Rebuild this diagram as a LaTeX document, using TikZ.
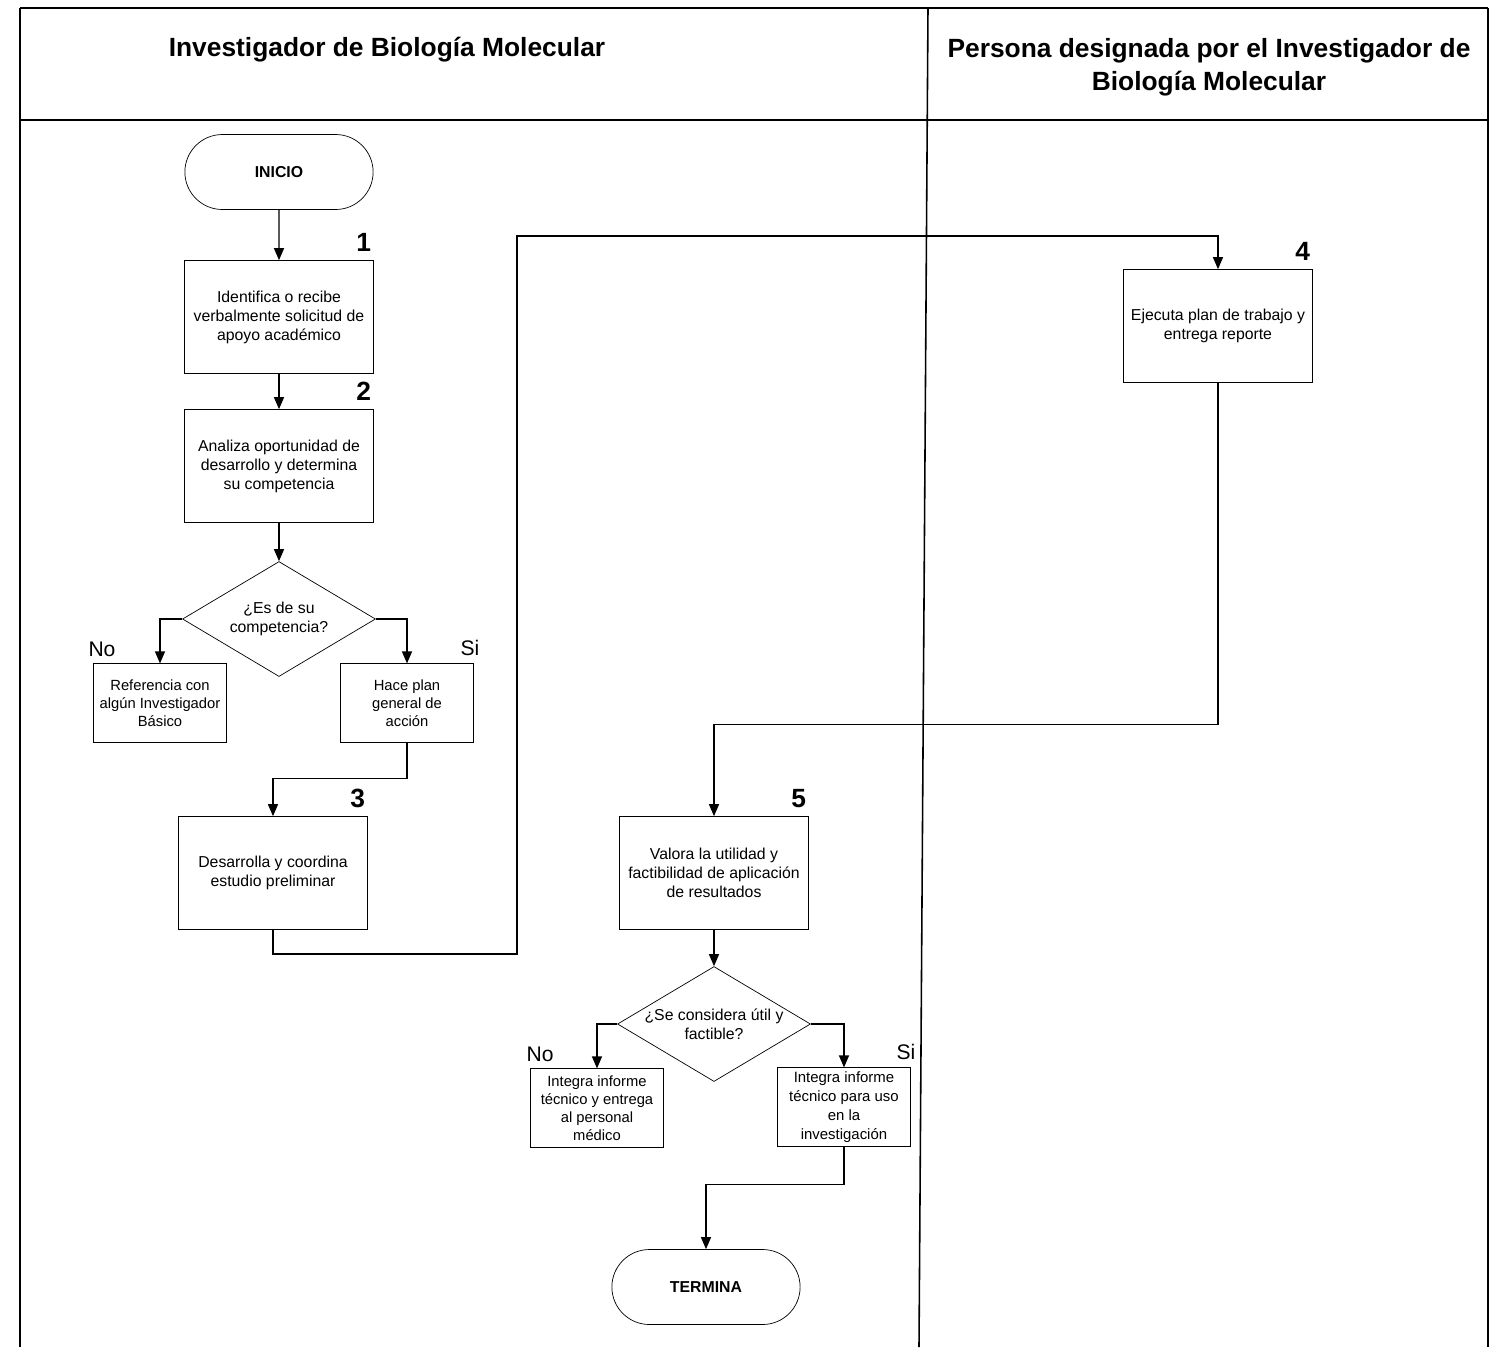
\documentclass[tikz,border=0pt]{standalone}
\usepackage{fontspec}
\setmainfont{Liberation Sans}
\usetikzlibrary{arrows.meta, positioning, shapes.geometric, shapes.misc}

\begin{document}
\begin{tikzpicture}[
  x=0.02cm, y=-0.02cm,
  every node/.style={font=\fontsize{9}{10.8}\selectfont},
  lane/.style={line width=0.9pt},
  header/.style={font=\fontsize{15}{18.7}\selectfont\bfseries, align=center},
  terminal/.style={draw, rounded rectangle, minimum width=4.0cm, minimum height=1.5cm, font=\fontsize{9}{10.8}\selectfont\bfseries},
  box/.style={draw, align=center, minimum width=3.78cm, minimum height=2.26cm, inner sep=2pt},
  smallbox/.style={draw, align=center, minimum width=2.65cm, minimum height=1.57cm, inner sep=1pt, font=\fontsize{8.4}{10.3}\selectfont},
  decision/.style={draw, diamond, aspect=1.7, minimum width=3.86cm, minimum height=2.3cm, inner sep=0pt, align=center},
  num/.style={font=\fontsize{15}{15}\selectfont\bfseries, inner sep=0pt},
  branch/.style={font=\fontsize{12}{12}\selectfont, inner sep=0pt},
  arrow/.style={-{Triangle[length=2.4mm, width=2mm]}, line width=0.7pt}
]
  \useasboundingbox (0,0) rectangle (1492,1347);

  % Carriles
  \draw[lane] (20,8) -- (1488,8);
  \draw[lane] (20,120) -- (1488,120);
  \draw[lane] (20,8) -- (20,1347);
  \draw[lane] (1488,8) -- (1488,1347);
  \draw[lane] (928,8) -- (919,1347);
  \node[header] (hinv) at (387,50) {Investigador de Biología Molecular};
  \node[header] (hper) at (1209,67) {Persona designada por el Investigador de\\ Biología Molecular};

  % Pasos
  \node[terminal] (ini) at (279,172) {INICIO};
  \node[box] (p1) at (279,317) {Identifica o recibe\\ verbalmente solicitud de\\ apoyo académico};
  \node[box] (p2) at (279,466) {Analiza oportunidad de\\ desarrollo y determina\\ su competencia};
  \node[decision] (d1) at (279,619) {¿Es de su\\ competencia?};
  \node[smallbox] (no1) at (160,703) {Referencia con\\ algún Investigador\\ Básico};
  \node[smallbox] (si1) at (407,703) {Hace plan\\ general de\\ acción};
  \node[box] (p3) at (273,873) {Desarrolla y coordina\\ estudio preliminar};
  \node[box] (p4) at (1218,326) {Ejecuta plan de trabajo y\\ entrega reporte};
  \node[box] (p5) at (714,873) {Valora la utilidad y\\ factibilidad de aplicación\\ de resultados};
  \node[decision] (d2) at (714,1024) {¿Se considera útil y\\ factible?};
  \node[smallbox] (no2) at (597,1108) {Integra informe\\ técnico y entrega\\ al personal\\ médico};
  \node[smallbox, font=\fontsize{8.5}{10.8}\selectfont] (si2) at (844,1107) {Integra informe\\ técnico para uso\\ en la\\ investigación};
  \node[terminal] (fin) at (706,1287) {TERMINA};

  % Numeros
  \node[num, above left=0.16cm and 0.05cm of p1.north east] (n1) {1};
  \node[num, above left=0.16cm and 0.05cm of p2.north east] (n2) {2};
  \node[num, above left=0.16cm and 0.05cm of p3.north east] (n3) {3};
  \node[num, above left=0.16cm and 0.05cm of p4.north east] (n4) {4};
  \node[num, above left=0.16cm and 0.05cm of p5.north east] (n5) {5};
  \node[branch] (lno1) at (102,649) {No};
  \node[branch] (lsi1) at (470,648) {Si};
  \node[branch] (lno2) at (540,1054) {No};
  \node[branch] (lsi2) at (906,1052) {Si};

  \coordinate (r3) at (517,954);
  \coordinate (r4) at (517,236);

  \draw[arrow] (ini) -- (p1);
  \draw[arrow] (p1) -- (p2);
  \draw[arrow] (p2) -- (d1);
  \draw[arrow] (d1.west) -| (no1.north);
  \draw[arrow] (d1.east) -| (si1.north);
  \draw[arrow] (si1.south) -- ++(0,36) -| (p3.north);
  \draw[arrow] (p3.south) |- (r3) -- (r4) -| (p4.north);
  \draw[arrow] (p4.south) -- ++(0,342) -| (p5.north);
  \draw[arrow] (p5) -- (d2);
  \draw[arrow] (d2.west) -| (no2.north);
  \draw[arrow] (d2.east) -| (si2.north);
  \draw[arrow] (si2.south) -- ++(0,38) -| (fin.north);

\end{tikzpicture}
\end{document}
